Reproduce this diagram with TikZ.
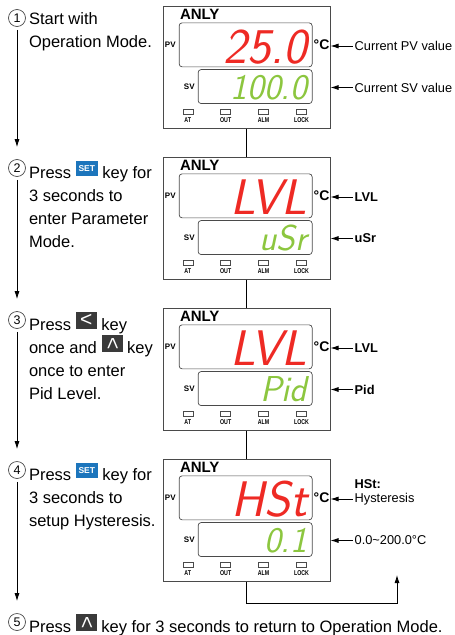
\documentclass[tikz,border=0pt]{standalone}
\usepackage{fontspec}
\setmainfont{Liberation Sans}
\newfontfamily\narrowfont[FakeStretch=0.75]{Liberation Sans}
\usepackage{graphicx}
\usetikzlibrary{positioning, arrows.meta}

\definecolor{segred}{HTML}{EE2A24}
\definecolor{seggreen}{HTML}{8CC63F}
\definecolor{keyblue}{HTML}{1C75BC}
\definecolor{keydark}{HTML}{3A3A3A}
\definecolor{linegray}{HTML}{4A4A4A}

% key icons used inside the step texts
\newcommand{\keybox}[4]{{\setlength{\fboxsep}{0pt}\raisebox{5pt}{\colorbox{#1}{\parbox[c][#3][c]{#2}{\centering\textcolor{white}{#4}}}}}}
\newcommand{\setkey}{\keybox{keyblue}{22pt}{15pt}{\fontsize{8.5}{9}\selectfont\bfseries SET}}
\newcommand{\leftkey}{\keybox{keydark}{21pt}{17pt}{\fontsize{21}{21}\selectfont <}}
\newcommand{\upkey}{\keybox{keydark}{21pt}{17pt}{\rotatebox{-90}{\fontsize{21}{21}\selectfont <}}}

\begin{document}
\begin{tikzpicture}[
        x=1pt, y=1pt,
        panel/.style={rectangle, draw=linegray, line width=1pt, minimum width=167pt, minimum height=122pt},
        lcd/.style={rectangle, draw=linegray, line width=0.7pt, rounded corners=3pt, inner sep=0pt},
        lamp/.style={rectangle, draw=linegray, line width=0.6pt, minimum width=10pt, minimum height=5pt, inner sep=0pt},
        lamplabel/.style={inner sep=0pt, font=\narrowfont\bfseries\fontsize{7}{7}\selectfont},
        brand/.style={inner sep=0pt, font=\bfseries\fontsize{15}{15}\selectfont},
        tag/.style={inner sep=0pt, font=\bfseries\fontsize{8}{8}\selectfont},
        unit/.style={inner sep=0pt, font=\bfseries\fontsize{14}{14}\selectfont},
        pvtext/.style={inner sep=0pt, text=segred, font=\sffamily\itshape\fontsize{50}{50}\selectfont},
        svtext/.style={inner sep=0pt, text=seggreen, font=\sffamily\itshape\fontsize{36}{36}\selectfont},
        numcirc/.style={circle, draw=linegray, line width=0.7pt, minimum size=17pt, inner sep=0pt, font=\fontsize{12.5}{12.5}\selectfont},
        steptext/.style={inner sep=0pt, align=left, font=\fontsize{16.5}{23}\selectfont},
        sidenote/.style={inner sep=2pt, align=left, font=\fontsize{12.8}{15}\selectfont},
        arrow/.style={->, >={Latex[length=8pt, width=5pt]}, line width=0.8pt},
        conn/.style={line width=0.8pt}
    ]

    \useasboundingbox (0,0) rectangle (455,-635);

    % the four controller panels
    \foreach \i/\y/\pv/\sv in {1/67/25.0/100.0, 2/218/LVL/uSr, 3/369/LVL/Pid, 4/520/HSt/0.1} {
        \node[panel] (panel\i) at (246.5,-\y) {};
        \node[lcd, minimum width=133pt, minimum height=44pt, below left=17pt and 18pt of panel\i.north east] (pv\i) {};
        \node[lcd, minimum width=114pt, minimum height=34pt, below=2pt of pv\i.south east, anchor=north east] (sv\i) {};
        \node[brand, above right=3pt and 1pt of pv\i.north west] (brand\i) {ANLY};
        \node[tag, left=3pt of pv\i] (pvtag\i) {PV};
        \node[tag, left=3pt of sv\i] (svtag\i) {SV};
        \node[unit, right=1pt of pv\i] (unit\i) {°C};
        \node[pvtext, above left=4pt and 5pt of pv\i.south east, anchor=base east] (pvval\i) {\pv};
        \node[svtext, above left=4.3pt and 5pt of sv\i.south east, anchor=base east] (svval\i) {\sv};
        \foreach \l [count=\k] in {AT,OUT,ALM,LOCK} {
            \pgfmathsetmacro\lx{20+37.9*(\k-1)}
            \node[lamp, below right=103pt and \lx pt of panel\i.north west] (lamp\i-\k) {};
            \node[lamplabel, below=3pt of lamp\i-\k] (lamplabel\i-\k) {\l};
        }
    }

    \draw[conn] (panel1) -- (panel2);
    \draw[conn] (panel2) -- (panel3);
    \draw[conn] (panel3) -- (panel4);
    \coordinate (back) at (397,-575);
    \draw[arrow] (panel4.south) -- ++(0,-22) -| (back);

    % notes on the right
    \node[sidenote, right=22pt of panel1.north east, yshift=-40.5pt] (pvnote1) {Current PV value};
    \node[sidenote, right=22pt of panel1.north east, yshift=-82pt] (svnote1) {Current SV value};
    \node[sidenote, font=\bfseries\fontsize{12.8}{15}\selectfont, right=22pt of panel2.north east, yshift=-40.5pt] (pvnote2) {LVL};
    \node[sidenote, font=\bfseries\fontsize{12.8}{15}\selectfont, right=22pt of panel2.north east, yshift=-82pt] (svnote2) {uSr};
    \node[sidenote, font=\bfseries\fontsize{12.8}{15}\selectfont, right=22pt of panel3.north east, yshift=-40.5pt] (pvnote3) {LVL};
    \node[sidenote, font=\bfseries\fontsize{12.8}{15}\selectfont, right=22pt of panel3.north east, yshift=-82pt] (svnote3) {Pid};
    \node[sidenote, right=22pt of panel4.north east, yshift=-40.5pt] (pvnote4) {Hysteresis};
    \node[sidenote, right=22pt of panel4.north east, yshift=-82pt] (svnote4) {0.0\textasciitilde200.0°C};
    \node[sidenote, font=\bfseries\fontsize{12.8}{15}\selectfont, above=0pt of pvnote4.north west, anchor=south west] (hstnote) {HSt:};

    \foreach \i in {1,...,4} {
        \draw[arrow] (pvnote\i.west) -- (pvnote\i.west -| panel\i.east);
        \draw[arrow] (svnote\i.west) -- (svnote\i.west -| panel\i.east);
    }

    % steps on the left
    \node[numcirc] (num1) at (17,-18) {1};
    \node[numcirc] (num2) at (17,-168) {2};
    \node[numcirc] (num3) at (17,-320) {3};
    \node[numcirc] (num4) at (17,-470) {4};
    \node[numcirc] (num5) at (17,-622) {5};

    \node[steptext, right=3pt of num1.east, anchor=north west, yshift=6pt] (text1) {Start with\\Operation Mode.};
    \node[steptext, right=3pt of num2.east, anchor=north west, yshift=7pt] (text2) {Press \setkey{} key for\\3 seconds to\\enter Parameter\\Mode.};
    \node[steptext, right=3pt of num3.east, anchor=north west, yshift=8pt] (text3) {Press \leftkey{} key\\once and \upkey{} key\\once to enter\\Pid Level.};
    \node[steptext, right=3pt of num4.east, anchor=north west, yshift=7pt] (text4) {Press \setkey{} key for\\3 seconds to\\setup Hysteresis.};
    \node[steptext, right=3pt of num5.east, anchor=north west, yshift=8pt] (text5) {Press \upkey{} key for 3 seconds to return to Operation Mode.};

    \draw[arrow, shorten <=3pt, shorten >=12pt] (num1) -- (num2);
    \draw[arrow, shorten <=3pt, shorten >=12pt] (num2) -- (num3);
    \draw[arrow, shorten <=3pt, shorten >=12pt] (num3) -- (num4);
    \draw[arrow, shorten <=3pt, shorten >=12pt] (num4) -- (num5);

\end{tikzpicture}
\end{document}
